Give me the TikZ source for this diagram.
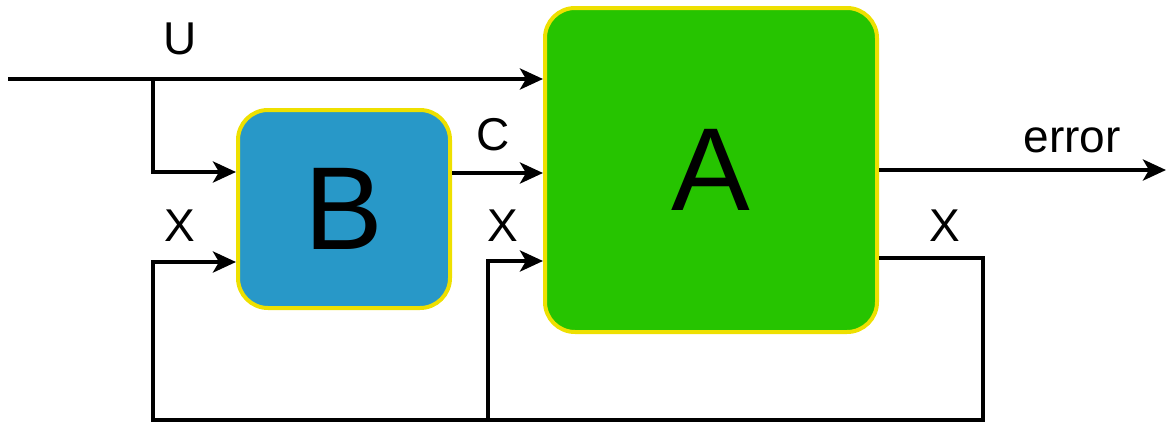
\documentclass[tikz,border=0pt]{standalone}
\usepackage{fontspec}
\setmainfont{Liberation Sans}
\usetikzlibrary{arrows.meta,calc}
\definecolor{boxgreen}{HTML}{26C400}
\definecolor{boxblue}{HTML}{2898C8}
\definecolor{boxyellow}{HTML}{EEE000}
\begin{document}
\begin{tikzpicture}[x=1pt,y=-1pt,
  blockbox/.style={draw=boxyellow, line width=4pt, rounded corners=30pt, inner sep=0pt,
    font=\fontsize{118}{120}\selectfont},
  wire/.style={line width=4.3pt, line join=miter},
  arr/.style={wire, -{Stealth[length=23pt,width=21pt,inset=6pt]}},
  lbl/.style={font=\fontsize{46}{50}\selectfont, inner sep=0pt}]
\useasboundingbox (0,0) rectangle (1168,426);
\node[blockbox, fill=boxgreen, minimum width=332pt, minimum height=324pt] (A) at (711,170) {A};
\node[blockbox, fill=boxblue, minimum width=212pt, minimum height=198pt] (B) at (344,209) {B};
\coordinate (u0) at (8,79);
\coordinate (j) at (153,79);
\coordinate (err) at (1166,170);
\coordinate (fr) at (983,420);
\coordinate (fl) at (153,420);
\coordinate (fm) at (488,420);
% U input
\draw[arr] (u0) -- (u0 -| A.west);
\draw[arr] (j) |- ([yshift=37pt]B.west);
% C
\draw[arr] ([yshift=36pt]B.east) -- ([yshift=36pt]B.east -| A.west);
% error
\draw[arr] (A.east |- err) -- (err);
% feedback X
\draw[arr] ([yshift=-88pt]A.east) -| (fr) -- (fl) |- ([yshift=-53pt]B.west);
\draw[arr] (fm) |- ([yshift=-91pt]A.west);
% labels
\node[lbl] (lU) at (180,39) {U};
\node[lbl] (lC) at (493,135) {C};
\node[lbl] (lX1) at (180,226) {X};
\node[lbl] (lX2) at (503,226) {X};
\node[lbl] (lX3) at (945,226) {X};
\node[lbl, anchor=base] (lerr) at (1072,152) {error};
\end{tikzpicture}
\end{document}
